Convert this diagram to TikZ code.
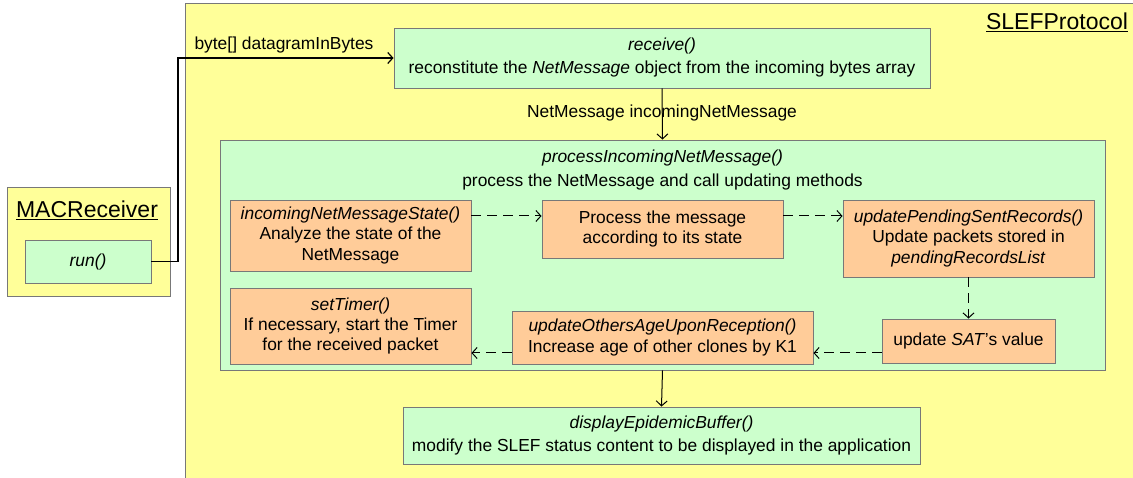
\documentclass[tikz,border=0pt]{standalone}
\usepackage{fontspec}
\setmainfont{Liberation Sans}
\usetikzlibrary{arrows.meta}
\definecolor{pale}{RGB}{255,255,153}
\definecolor{mint}{RGB}{204,255,204}
\definecolor{peach}{RGB}{255,204,153}
\definecolor{edge}{RGB}{120,120,120}
\tikzset{
  classbox/.style={draw=edge, fill=pale, line width=0.9pt},
  methodbox/.style={draw=edge, fill=mint, line width=0.9pt, align=center, inner sep=0pt,
    font=\fontsize{17.4}{23}\selectfont},
  stepbox/.style={draw=edge, fill=peach, line width=0.9pt, align=center, inner sep=0pt,
    font=\fontsize{17.4}{20.3}\selectfont},
  flow/.style={draw=black, line width=1pt, -{Straight Barb[length=5pt,width=11pt]}},
  callflow/.style={flow, dash pattern=on 10pt off 6pt},
  tag/.style={font=\fontsize{17.4}{20}\selectfont, inner sep=0pt},
  classname/.style={font=\fontsize{23}{26}\selectfont, inner sep=0pt}
}
\begin{document}
\begin{tikzpicture}[x=1pt,y=-1pt]
\useasboundingbox (0,0) rectangle (1133,478);
\clip (0,0) rectangle (1133,478);
\fill[white] (0,0) rectangle (1133,478);

% protocol class frame, running past the page edge
\draw[classbox] (185,3) rectangle (1150,500);
\node[classname] (proto) at (1057,22) {\underline{SLEFProtocol}};

% receiver class
\draw[classbox] (7,187) rectangle (170,296);
\node[classname] (mac) at (87,210) {\underline{MACReceiver}};
\node[methodbox, minimum width=126pt, minimum height=43pt] (run) at (88,261.5) {\textit{run()}};

% receive method
\node[methodbox, minimum width=536pt, minimum height=60pt] (recv) at (662,58)
  {\textit{receive()}\\reconstitute the \textit{NetMessage} object from the incoming bytes array};

% processing method with its inner steps
\node[methodbox, minimum width=885pt, minimum height=230pt] (proc) at (662.5,255) {};
\node[tag, align=center, font=\fontsize{17.4}{24}\selectfont] (proctitle) at (662.5,170)
  {\textit{processIncomingNetMessage()}\\process the NetMessage and call updating methods};

\node[stepbox, minimum width=241pt, minimum height=71pt] (state) at (350.5,235.5)
  {\textit{incomingNetMessageState()}\\Analyze the state of the\\NetMessage};
\node[stepbox, minimum width=241pt, minimum height=58pt] (handle) at (662.5,229)
  {Process the message\\according to its state};
\node[stepbox, minimum width=251pt, minimum height=77pt] (pending) at (968.5,238.5)
  {\textit{updatePendingSentRecords()}\\Update packets stored in\\\textit{pendingRecordsList}};
\node[stepbox, minimum width=173pt, minimum height=44pt] (sat) at (968.5,341)
  {update \textit{SAT}'s value};
\node[stepbox, minimum width=301pt, minimum height=53pt] (age) at (662.5,337.5)
  {\textit{updateOthersAgeUponReception()}\\Increase age of other clones by K1};
\node[stepbox, minimum width=241pt, minimum height=76pt] (timer) at (350.5,326)
  {\textit{setTimer()}\\If necessary, start the Timer\\for the received packet};

% display method
\node[methodbox, minimum width=517pt, minimum height=57pt] (disp) at (661.5,435.5)
  {\textit{displayEpidemicBuffer()}\\modify the SLEF status content to be displayed in the application};

% connectors
\coordinate (bendA) at (178,261.5);
\coordinate (bendB) at (178,58);
\draw[flow, line width=1.2pt] (run.east) -- (bendA) -- (bendB) -- (recv.west);
\node[tag] (bytes) at (284,45) {byte[] datagramInBytes};

\draw[flow] (recv.south) -- (proc.north);
\node[tag] (netmsg) at (662,113) {NetMessage incomingNetMessage};

\draw[callflow] (state.east |- 0,216) -- (handle.west |- 0,216);
\draw[callflow] (handle.east |- 0,216) -- (pending.west |- 0,216);
\draw[callflow] (pending.south) -- (sat.north);
\draw[callflow] (sat.west |- 0,353) -- (age.east |- 0,353);
\draw[callflow] (age.west |- 0,353) -- (timer.east |- 0,353);

\draw[flow] (proc.south) -- (disp.north);
\end{tikzpicture}
\end{document}
